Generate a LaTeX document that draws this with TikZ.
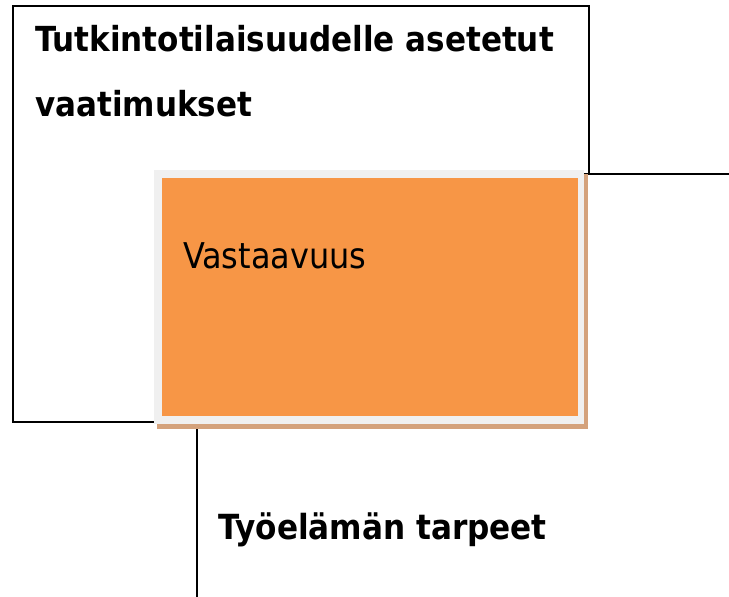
\documentclass[tikz,border=0pt]{standalone}
\usepackage{fontspec}
\setmainfont{DejaVu Sans Condensed}
\definecolor{orangefill}{HTML}{F79646}
\definecolor{framegray}{HTML}{F0F0F0}
\definecolor{shadowtan}{HTML}{D4A27C}
\begin{document}
\begin{tikzpicture}[x=1pt,y=-1pt,
  boxline/.style={draw=black,line width=1.6pt,fill=white},
  titletext/.style={anchor=base west,inner sep=0pt,font=\bfseries\fontsize{34.5}{40}\selectfont},
  bodytext/.style={anchor=base west,inner sep=0pt,font=\fontsize{35.5}{40}\selectfont}]
\useasboundingbox (0,0) rectangle (729,597);
\begin{scope}
\clip (0,0) rectangle (729,597);
% box 1
\node[boxline,minimum width=576pt,minimum height=416pt,anchor=north west,inner sep=0pt] (req) at (12,5) {};
% box 3
\node[boxline,minimum width=700pt,minimum height=500pt,anchor=north west,inner sep=0pt] (work) at (196,173) {};
\end{scope}
% orange box with shadow and frame
\fill[shadowtan] (157,174) rectangle (588,429);
\node[fill=framegray,minimum width=430pt,minimum height=254pt,anchor=north west,inner sep=0pt] (frame) at (154,170) {};
\node[fill=orangefill,minimum width=416pt,minimum height=238pt,anchor=north west,inner sep=0pt] (match) at (162,178) {};
% texts
\node[titletext] (t1) at (35,51) {Tutkintotilaisuudelle asetetut};
\node[titletext] (t2) at (35,116) {vaatimukset};
\node[bodytext] (t3) at (183,268) {Vastaavuus};
\node[titletext,font=\bfseries\fontsize{34.6}{40}\selectfont] (t4) at (218,539) {Työelämän tarpeet};
\end{tikzpicture}
\end{document}
